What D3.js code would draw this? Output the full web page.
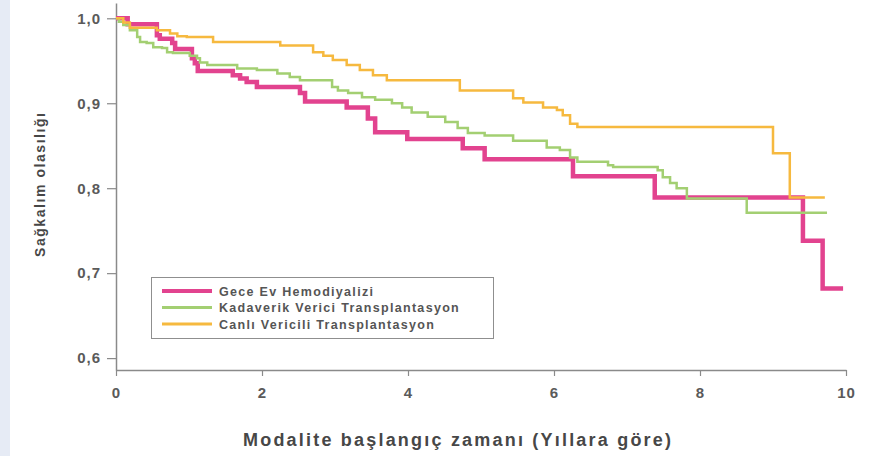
<!DOCTYPE html>
<html>
<head>
<meta charset="utf-8">
<script src="https://cdn.jsdelivr.net/npm/d3@7"></script>
<style>
  body { margin: 0; background: #fff; }
  .tick text { font-family: "Liberation Sans", Arial, sans-serif; font-weight: bold; font-size: 15px; fill: #5a5a5a; letter-spacing: 1px; }
  .legend text { font-family: "Liberation Sans", Arial, sans-serif; font-weight: bold; font-size: 12.5px; fill: #555; }
</style>
</head>
<body>
<div id="chart"></div>
<script>
var svgWidth = 885;
var svgHeight = 456;

// Series: step times (years) and survival probability after each step
var geceTimes = [0, 0.16, 0.56, 0.60, 0.77, 0.81, 1.04, 1.08, 1.12, 1.60, 1.70, 1.79, 1.93, 2.52, 2.59, 3.16, 3.45, 3.55, 3.99, 4.75, 5.05, 6.26, 7.38, 9.41, 9.68, 9.96];
var geceSurv  = [1.0, 0.993, 0.980, 0.976, 0.971, 0.964, 0.953, 0.947, 0.938, 0.933, 0.929, 0.925, 0.919, 0.912, 0.902, 0.895, 0.882, 0.866, 0.858, 0.847, 0.834, 0.814, 0.789, 0.738, 0.682, 0.682];

var kadaTimes = [0, 0.04, 0.10, 0.19, 0.29, 0.33, 0.42, 0.51, 0.63, 0.70, 0.78, 1.01, 1.11, 1.15, 1.25, 1.66, 1.93, 2.21, 2.38, 2.52, 2.96, 3.04, 3.18, 3.37, 3.55, 3.78, 3.92, 4.05, 4.27, 4.51, 4.68, 4.82, 5.05, 5.44, 5.90, 6.08, 6.22, 6.32, 6.74, 6.81, 7.42, 7.49, 7.59, 7.68, 7.82, 8.64, 9.74];
var kadaSurv  = [1.0, 0.996, 0.992, 0.986, 0.978, 0.972, 0.971, 0.966, 0.965, 0.960, 0.959, 0.956, 0.953, 0.948, 0.945, 0.941, 0.939, 0.935, 0.931, 0.927, 0.919, 0.915, 0.912, 0.907, 0.904, 0.900, 0.895, 0.889, 0.884, 0.878, 0.871, 0.865, 0.862, 0.856, 0.848, 0.845, 0.836, 0.831, 0.827, 0.825, 0.821, 0.813, 0.806, 0.800, 0.788, 0.771, 0.771];

var canliTimes = [0, 0.10, 0.19, 0.56, 0.74, 0.84, 0.97, 1.33, 2.25, 2.70, 2.84, 2.97, 3.16, 3.34, 3.52, 3.71, 4.71, 5.44, 5.58, 5.85, 6.04, 6.12, 6.22, 6.32, 9.00, 9.23, 9.71];
var canliSurv  = [1.0, 0.995, 0.989, 0.986, 0.982, 0.979, 0.978, 0.972, 0.968, 0.960, 0.956, 0.951, 0.945, 0.939, 0.933, 0.927, 0.915, 0.906, 0.901, 0.895, 0.892, 0.886, 0.876, 0.872, 0.841, 0.789, 0.789];

var seriesNames = ["Gece Ev Hemodiyalizi", "Kadaverik Verici Transplantasyon", "Canlı Vericili Transplantasyon"];
var seriesColors = ["#e2438f", "#a3cf72", "#f6b93f"];
var seriesWidths = [4.5, 2.5, 2.5];

var xTicks = [0, 2, 4, 6, 8, 10];
var yTicks = [0.6, 0.7, 0.8, 0.9, 1.0];

var svg = d3.select("#chart")
  .append("svg")
  .attr("width", svgWidth)
  .attr("height", svgHeight);

// pale strip on the left edge
svg.append("rect")
  .attr("x", 0).attr("y", 0)
  .attr("width", 10).attr("height", svgHeight)
  .attr("fill", "#e6ebf5");

var xScale = d3.scaleLinear().domain([0, 10]).range([116, 846]);
var yScale = d3.scaleLinear().domain([0.586, 1.018]).range([370, 3]);

// x axis
var xAxis = svg.append("g")
  .attr("transform", "translate(0, 370)")
  .call(d3.axisBottom(xScale).tickValues(xTicks).tickFormat(d3.format("d")).tickSize(6).tickPadding(11).tickSizeOuter(0));

// y axis
var yAxis = svg.append("g")
  .attr("transform", "translate(116, 0)")
  .call(d3.axisLeft(yScale).tickValues(yTicks).tickFormat(d => d3.format(".1f")(d).replace(".", ",")).tickSize(9).tickPadding(6).tickSizeOuter(0));

svg.selectAll(".domain").attr("stroke", "#8a8a8a").attr("stroke-width", 1.5);
svg.selectAll(".tick line").attr("stroke", "#8a8a8a").attr("stroke-width", 1.2);

// curves
var line = d3.line()
  .x(d => xScale(d[0]))
  .y(d => yScale(d[1]))
  .curve(d3.curveStepAfter);

var allSeries = [
  d3.zip(geceTimes, geceSurv),
  d3.zip(kadaTimes, kadaSurv),
  d3.zip(canliTimes, canliSurv)
];

// thick pink first, thinner lines drawn over it
[0, 1, 2].forEach(function(i) {
  svg.append("path")
    .datum(allSeries[i])
    .attr("fill", "none")
    .attr("stroke", seriesColors[i])
    .attr("stroke-width", seriesWidths[i])
    .attr("d", line);
});

// axis titles
svg.append("text")
  .attr("x", 243)
  .attr("y", 446)
  .attr("textLength", 428)
  .attr("font-family", "Liberation Sans, Arial, sans-serif")
  .attr("font-weight", "bold")
  .attr("font-size", 18)
  .attr("fill", "#474747")
  .text("Modalite başlangıç zamanı (Yıllara göre)");

svg.append("text")
  .attr("transform", "translate(45, 185) rotate(-90)")
  .attr("text-anchor", "middle")
  .attr("textLength", 144)
  .attr("font-family", "Liberation Sans, Arial, sans-serif")
  .attr("font-weight", "bold")
  .attr("font-size", 14)
  .attr("fill", "#474747")
  .text("Sağkalım olasılığı");

// legend
var legend = svg.append("g").attr("class", "legend");

legend.append("rect")
  .attr("x", 151.5).attr("y", 277.5)
  .attr("width", 342).attr("height", 61)
  .attr("fill", "#fff")
  .attr("stroke", "#8f8f8f")
  .attr("stroke-width", 1);

seriesNames.forEach(function(name, i) {
  var ly = 291 + i * 16.5;
  legend.append("line")
    .attr("x1", 162).attr("x2", 212)
    .attr("y1", ly).attr("y2", ly)
    .attr("stroke", seriesColors[i])
    .attr("stroke-width", i === 0 ? 4 : 3);
  legend.append("text")
    .attr("x", 219)
    .attr("y", ly + 4.5)
    .attr("letter-spacing", 1.3)
    .text(name);
});
</script>
</body>
</html>
